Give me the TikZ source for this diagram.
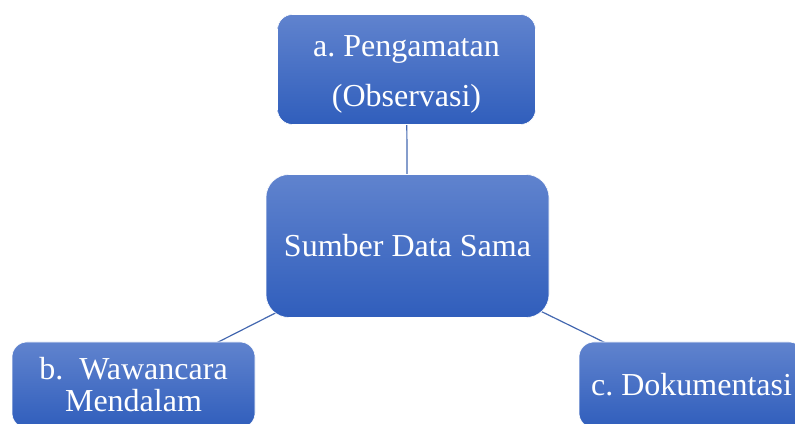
\documentclass[tikz,border=0pt]{standalone}
\usepackage{fontspec}
\setmainfont{Liberation Serif}
\frenchspacing
\usetikzlibrary{backgrounds}
\definecolor{boxtop}{RGB}{96,131,206}
\definecolor{boxbot}{RGB}{48,94,188}
\definecolor{linkc}{RGB}{68,104,176}
\begin{document}
\begin{tikzpicture}[x=1pt,y=1pt,
  box/.style={rectangle, rounded corners=15pt, top color=boxtop, bottom color=boxbot,
    draw=white, line width=0.6pt, text=white, align=center, inner sep=0pt},
  boxtext/.style={text=white, align=center, inner sep=0pt},
  link/.style={draw=linkc, line width=1.2pt}]
\useasboundingbox (0,0) rectangle (795,423);
\clip (0,0) rectangle (795,423);
\node[box, minimum width=258pt, minimum height=110pt,
  label={[boxtext, font=\fontsize{32}{50}\selectfont, yshift=-5pt]center:a. Pengamatan\\(Observasi)}]
  (a) at (406.5,353.5) {};
\node[box, rounded corners=23pt, minimum width=283pt, minimum height=143pt,
  font=\fontsize{32}{40}\selectfont] (s) at (407.5,177) {Sumber Data Sama};
\node[box, minimum width=243pt, minimum height=86pt,
  font=\fontsize{32}{32}\selectfont] (b) at (133.5,38) {b.\ \ Wawancara\\Mendalam};
\node[box, minimum width=225pt, minimum height=86pt,
  font=\fontsize{32}{40}\selectfont] (c) at (691.5,38) {c. Dokumentasi};
\begin{scope}[on background layer]
\draw[link] (a.center) -- (s.center);
\draw[link] (s.center) -- (b.center);
\draw[link] (s.center) -- (c.center);
\end{scope}
\end{tikzpicture}
\end{document}
